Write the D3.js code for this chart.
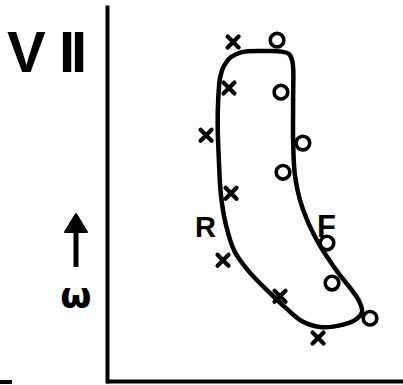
<!DOCTYPE html>
<html>
<head>
<meta charset="utf-8">
<script src="https://cdn.jsdelivr.net/npm/d3@7"></script>
<style>
  html, body { margin: 0; padding: 0; background: #fff; }
  svg { display: block; }
</style>
</head>
<body>
<script>
// Rising-branch (R) measurements, plotted as crosses
const riseX = [42.8, 41.4, 33.7, 42.1, 39.4, 58.6, 71.4];
const riseY = [90.1, 77.8, 65.2, 49.7, 31.8, 22.2, 11.0];

// Falling-branch (F) measurements, plotted as open circles
const fallX = [57.6, 58.9, 66.3, 59.6, 74.4, 76.1, 88.9];
const fallY = [90.6, 76.7, 63.1, 55.3, 36.4, 25.7, 16.3];

// Hand-fitted envelope enclosing both branches (closed loop, clockwise from upper left)
const loopX = [38.4, 39.7, 42.1, 45.8, 52.5, 58.6, 61.6, 62.8, 63.0, 63.0, 63.6, 65.3, 68.0, 71.4,
               74.7, 78.5, 82.5, 85.2, 86.2, 83.8, 78.8, 72.7, 66.0, 60.6, 54.2, 47.8, 43.1, 40.4,
               38.7, 38.0, 37.6, 37.8];
const loopY = [80.5, 83.7, 86.1, 87.4, 87.7, 87.6, 86.9, 84.8, 74.6, 63.9, 54.5, 47.9, 42.0, 36.6,
               32.4, 28.1, 24.1, 20.9, 18.0, 15.8, 14.4, 13.9, 15.5, 19.0, 23.8, 29.1, 34.5, 41.2,
               49.2, 58.6, 67.9, 75.0];

const panelLabel = "VII";
const yLabel = "ω";
const branchLabels = ["R", "F"];

const W = 403, H = 385;
const svg = d3.select("body").append("svg").attr("width", W).attr("height", H);

const x = d3.scaleLinear().domain([0, 100]).range([106, 403]);
const y = d3.scaleLinear().domain([-1, 100]).range([383, 5]);

const ink = "#000";

// Axes: bare frame lines, no ticks
svg.append("g")
  .attr("transform", "translate(0,381)")
  .call(d3.axisBottom(x).ticks(0).tickSizeOuter(0))
  .call(g => g.select(".domain").attr("stroke", ink).attr("stroke-width", 4));
svg.append("g")
  .attr("transform", "translate(107,0)")
  .call(d3.axisLeft(y).ticks(0).tickSizeOuter(0))
  .call(g => g.select(".domain").attr("stroke", ink).attr("stroke-width", 4));

// Small dash at lower left
svg.append("line").attr("x1", 0).attr("x2", 12).attr("y1", 382).attr("y2", 382)
  .attr("stroke", ink).attr("stroke-width", 4);

// Envelope curve
const loopPts = loopX.map((v, i) => [x(v), y(loopY[i])]);
svg.append("path")
  .attr("d", d3.line().curve(d3.curveCatmullRomClosed.alpha(0.5))(loopPts))
  .attr("fill", "none").attr("stroke", ink).attr("stroke-width", 4.5)
  .attr("stroke-linejoin", "round");

// Open circles (F)
svg.append("g").selectAll("circle").data(fallX.map((v, i) => [v, fallY[i]]))
  .join("circle")
  .attr("cx", d => x(d[0])).attr("cy", d => y(d[1])).attr("r", 6.8)
  .attr("fill", "#fff").attr("stroke", ink).attr("stroke-width", 3.6);

// Crosses (R)
const s = 5.5;
svg.append("g").selectAll("path").data(riseX.map((v, i) => [v, riseY[i]]))
  .join("path")
  .attr("transform", d => `translate(${x(d[0])},${y(d[1])})`)
  .attr("d", `M${-s},${-s}L${s},${s}M${-s},${s}L${s},${-s}`)
  .attr("stroke", ink).attr("stroke-width", 4.2).attr("stroke-linecap", "round");

// Panel numeral
const font = "'Liberation Sans', Arial, sans-serif";
svg.append("text").attr("x", 7).attr("y", 72)
  .attr("font-family", font).attr("font-weight", "bold").attr("font-size", 58)
  .attr("fill", ink).attr("letter-spacing", -4)
  .text(panelLabel[0]);
svg.append("text").attr("x", 59).attr("y", 72)
  .attr("font-family", font).attr("font-weight", "bold").attr("font-size", 58)
  .attr("fill", ink).attr("letter-spacing", -4)
  .text(panelLabel.slice(1));

// Branch labels
svg.append("text").attr("x", 195).attr("y", 237)
  .attr("font-family", font).attr("font-weight", "bold").attr("font-size", 29)
  .attr("fill", ink).text(branchLabels[0]);
svg.append("text").attr("x", 317).attr("y", 237)
  .attr("font-family", font).attr("font-weight", "bold").attr("font-size", 31)
  .attr("fill", ink).text(branchLabels[1]);

// Y label: upward arrow and omega
svg.append("line").attr("x1", 76).attr("x2", 76).attr("y1", 224).attr("y2", 267)
  .attr("stroke", ink).attr("stroke-width", 5);
svg.append("path").attr("d", "M76,214 L87,232 L65,232 Z").attr("fill", ink)
  .attr("stroke", ink).attr("stroke-width", 2).attr("stroke-linejoin", "round");
svg.append("text").attr("x", 76).attr("y", 308).attr("text-anchor", "middle")
  .attr("font-family", "'DejaVu Sans', sans-serif").attr("font-weight", "bold").attr("font-size", 36)
  .attr("fill", ink).text(yLabel);
</script>
</body>
</html>
